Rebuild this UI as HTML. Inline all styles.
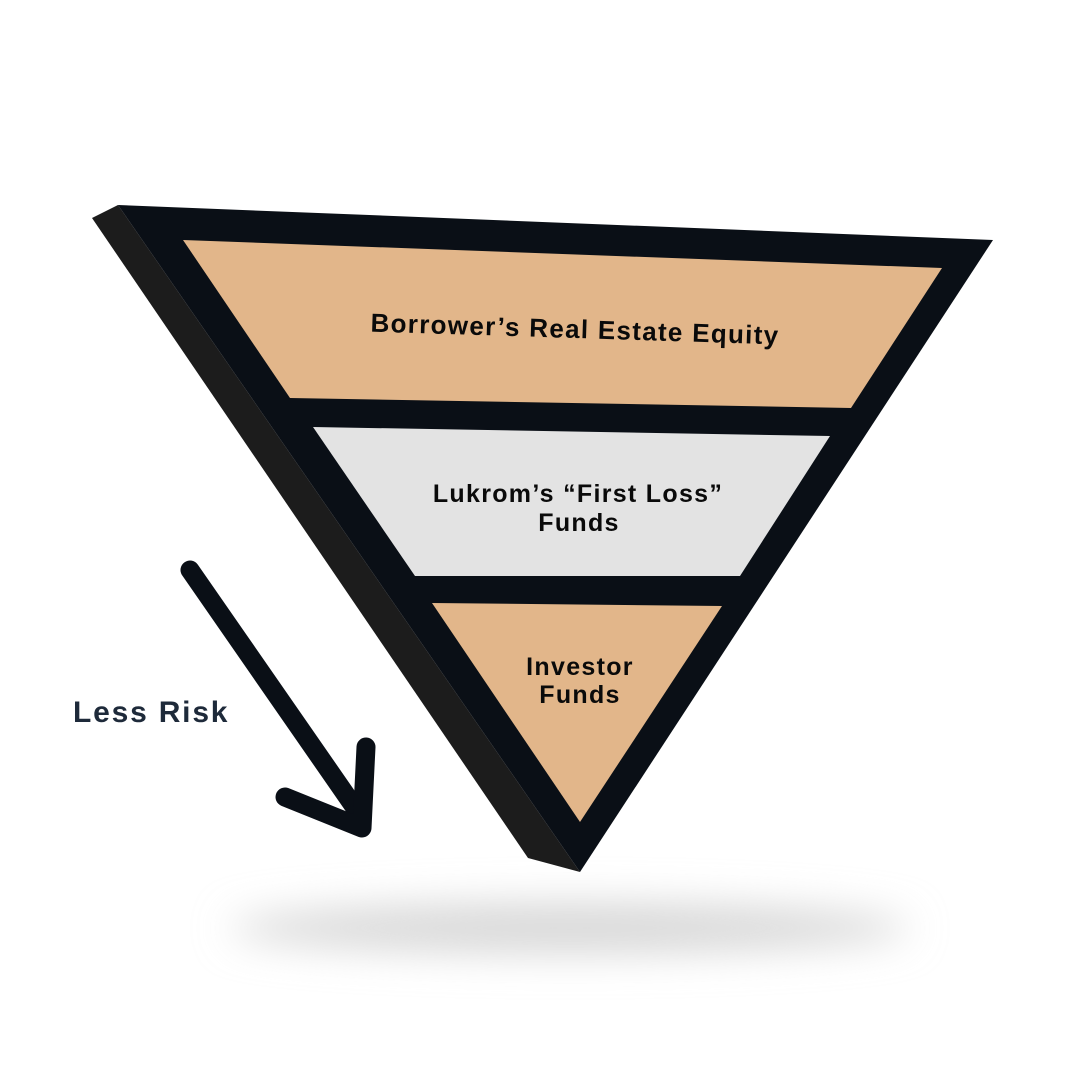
<!DOCTYPE html>
<html><head><meta charset="utf-8"><style>
html,body{margin:0;padding:0;background:#fff;}
svg{display:block}
</style></head><body>
<svg width="1080" height="1080" viewBox="0 0 1080 1080" xmlns="http://www.w3.org/2000/svg">
<defs>
<filter id="b" x="-50%" y="-200%" width="200%" height="500%"><feGaussianBlur stdDeviation="20"/></filter>
</defs>
<ellipse cx="570" cy="928" rx="340" ry="24" fill="#d6d6d6" filter="url(#b)"/>
<polygon points="92,218 118,205 580,872 528,858" fill="#1c1c1c"/>
<polygon points="118,205 993,240 580,872" fill="#0a0f16"/>
<polygon points="183,240 942,268 851,408 290,398" fill="#e2b68a"/>
<polygon points="313,427 830,436 740,576 415,576" fill="#e3e3e3"/>
<polygon points="432,603 722,606 580,822" fill="#e2b68a"/>
<g font-family="'Liberation Sans',sans-serif" font-weight="bold" fill="#0a0a0a" text-anchor="middle" letter-spacing="1.3">
<text x="575" y="338" font-size="26" transform="rotate(1.8 575 330)">Borrower’s Real Estate Equity</text>
<text x="578" y="502" font-size="25">Lukrom’s “First Loss”</text>
<text x="579" y="531" font-size="25">Funds</text>
<text x="580" y="675" font-size="25">Investor</text>
<text x="580" y="703" font-size="25">Funds</text>
</g>
<text x="73" y="722" font-family="'Liberation Sans',sans-serif" font-weight="bold" font-size="30" fill="#1e2a3a" letter-spacing="1.8">Less Risk</text>
<g stroke-linecap="round" stroke-linejoin="round" fill="none">
<polyline points="190,570 362,818" stroke="#0a0f16" stroke-width="19"/>
<polyline points="285,797 362,828 366,747" stroke="#0a0f16" stroke-width="19"/>
</g>
</svg>
</body></html>
